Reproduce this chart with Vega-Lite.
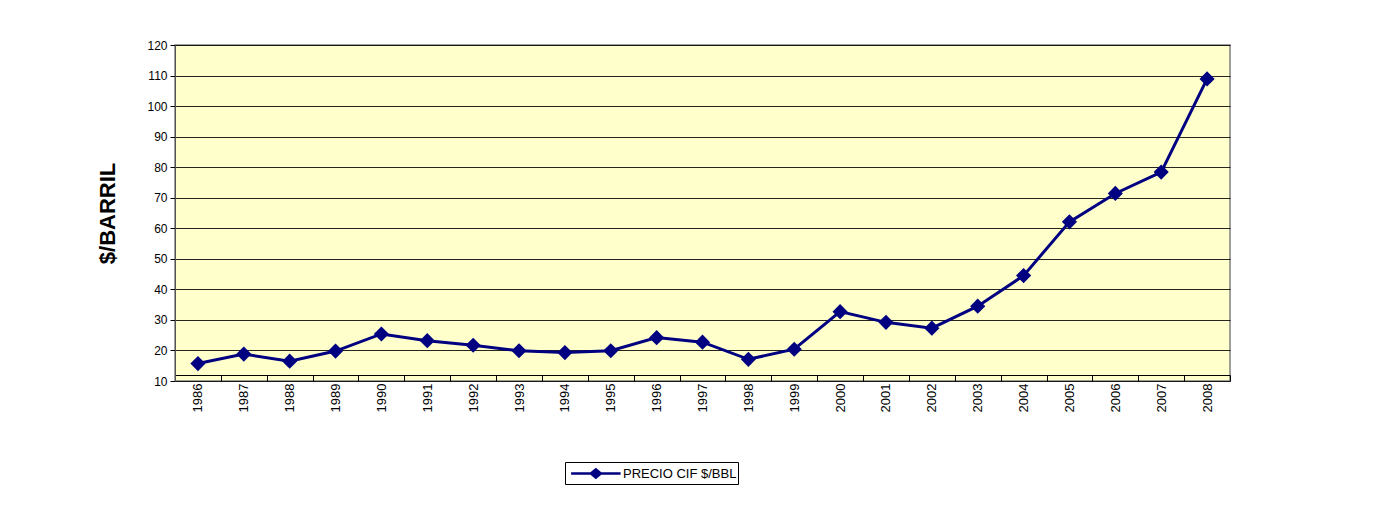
{
  "$schema": "https://vega.github.io/schema/vega-lite/v6.json",
  "width": 1055,
  "height": 336,
  "autosize": {"type": "none"},
  "padding": {"left": 175, "top": 45, "right": 144, "bottom": 125},
  "background": "white",
  "config": {
    "font": "Liberation Sans",
    "view": {"fill": "#FFFFCC", "stroke": "#808080", "strokeWidth": 1.5}
  },
  "data": {
    "values": [
      {"year": "1986", "precio": 15.7, "serie": "PRECIO CIF $/BBL"},
      {"year": "1987", "precio": 18.8, "serie": "PRECIO CIF $/BBL"},
      {"year": "1988", "precio": 16.5, "serie": "PRECIO CIF $/BBL"},
      {"year": "1989", "precio": 19.8, "serie": "PRECIO CIF $/BBL"},
      {"year": "1990", "precio": 25.4, "serie": "PRECIO CIF $/BBL"},
      {"year": "1991", "precio": 23.2, "serie": "PRECIO CIF $/BBL"},
      {"year": "1992", "precio": 21.7, "serie": "PRECIO CIF $/BBL"},
      {"year": "1993", "precio": 19.9, "serie": "PRECIO CIF $/BBL"},
      {"year": "1994", "precio": 19.3, "serie": "PRECIO CIF $/BBL"},
      {"year": "1995", "precio": 19.9, "serie": "PRECIO CIF $/BBL"},
      {"year": "1996", "precio": 24.2, "serie": "PRECIO CIF $/BBL"},
      {"year": "1997", "precio": 22.7, "serie": "PRECIO CIF $/BBL"},
      {"year": "1998", "precio": 17.1, "serie": "PRECIO CIF $/BBL"},
      {"year": "1999", "precio": 20.4, "serie": "PRECIO CIF $/BBL"},
      {"year": "2000", "precio": 32.7, "serie": "PRECIO CIF $/BBL"},
      {"year": "2001", "precio": 29.2, "serie": "PRECIO CIF $/BBL"},
      {"year": "2002", "precio": 27.3, "serie": "PRECIO CIF $/BBL"},
      {"year": "2003", "precio": 34.5, "serie": "PRECIO CIF $/BBL"},
      {"year": "2004", "precio": 44.5, "serie": "PRECIO CIF $/BBL"},
      {"year": "2005", "precio": 62.1, "serie": "PRECIO CIF $/BBL"},
      {"year": "2006", "precio": 71.4, "serie": "PRECIO CIF $/BBL"},
      {"year": "2007", "precio": 78.4, "serie": "PRECIO CIF $/BBL"},
      {"year": "2008", "precio": 108.9, "serie": "PRECIO CIF $/BBL"}
    ]
  },
  "mark": {
    "type": "line",
    "strokeWidth": 3,
    "point": {"shape": "diamond", "filled": true, "size": 230, "opacity": 1, "color": "#000080"}
  },
  "encoding": {
    "x": {
      "field": "year",
      "type": "ordinal",
      "scale": {"type": "band", "paddingInner": 0, "paddingOuter": 0},
      "axis": {
        "title": null,
        "labelAngle": 270,
        "tickBand": "extent",
        "offset": -6,
        "tickSize": 6,
        "domainColor": "black",
        "tickColor": "black",
        "labelColor": "black",
        "labelFontSize": 13,
        "labelPadding": 2,
        "grid": false
      }
    },
    "y": {
      "field": "precio",
      "type": "quantitative",
      "scale": {"domain": [10, 120], "nice": false, "zero": false},
      "axis": {
        "values": [10, 20, 30, 40, 50, 60, 70, 80, 90, 100, 110, 120],
        "title": "$/BARRIL",
        "titleFontSize": 22,
        "titleFontWeight": "bold",
        "titleColor": "black",
        "titlePadding": 27,
        "gridColor": "#000000",
        "gridOpacity": 0.85,
        "gridWidth": 1,
        "tickSize": 5,
        "tickColor": "black",
        "domainColor": "#555555",
        "labelColor": "black",
        "labelFontSize": 12,
        "labelPadding": 3
      }
    },
    "color": {
      "field": "serie",
      "type": "nominal",
      "scale": {"range": ["#000080"]},
      "legend": {
        "orient": "none",
        "legendX": 390,
        "legendY": 417,
        "title": null,
        "strokeColor": "black",
        "fillColor": "white",
        "padding": 1,
        "symbolType": "M-0.6,0L4.9,0M1.6,0L2.15,-0.45L2.7,0L2.15,0.45Z",
        "symbolSize": 324,
        "symbolStrokeWidth": 2.5,
        "symbolFillColor": "#000080",
        "symbolStrokeColor": "#000080",
        "labelFontSize": 13,
        "labelColor": "black",
        "labelOffset": 36
      }
    }
  }
}
